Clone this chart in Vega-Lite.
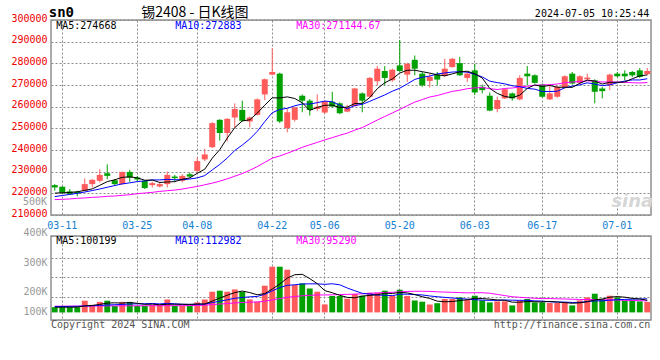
{
  "$schema": "https://vega.github.io/schema/vega-lite/v6.json",
  "padding": {"left": 10, "top": 4, "right": 10, "bottom": 4},
  "bounds": "flush",
  "spacing": 21,
  "config": {
    "view": {"stroke": "#909090", "strokeWidth": 1.5},
    "axis": {"labelFont": "DejaVu Sans Mono", "labelFontSize": 10, "domain": false, "ticks": false, "gridColor": "#8a8a8a", "gridDash": [2, 2], "gridWidth": 1, "labelOverlap": false},
    "text": {"font": "DejaVu Sans Mono", "fontSize": 10, "baseline": "middle"}
  },
  "data": {"values": [
    {"d":"03-08","o":223790,"h":224250,"l":221210,"c":222730,"v":43160,"m5":220100,"m10":218500,"m30":217100,"vm5":43160,"vm10":48140,"vm30":51460},
    {"d":"03-11","o":223030,"h":223340,"l":219680,"c":220290,"v":43160,"m5":220250,"m10":219000,"m30":217250,"vm5":43160,"vm10":48970,"vm30":51460},
    {"d":"03-12","o":220900,"h":221970,"l":219380,"c":219530,"v":43160,"m5":220400,"m10":219500,"m30":217400,"vm5":43160,"vm10":49800,"vm30":51875},
    {"d":"03-13","o":220750,"h":221210,"l":218620,"c":219990,"v":43160,"m5":220700,"m10":220000,"m30":217700,"vm5":44000,"vm10":50630,"vm30":52290},
    {"d":"03-14","o":221210,"h":226840,"l":220900,"c":224250,"v":97110,"m5":221358,"m10":220600,"m30":217860,"vm5":53950,"vm10":53120,"vm30":52705},
    {"d":"03-15","o":224250,"h":226530,"l":222730,"c":226230,"v":62250,"m5":222058,"m10":221300,"m30":218160,"vm5":57768,"vm10":55610,"vm30":53120},
    {"d":"03-18","o":225770,"h":231100,"l":225010,"c":228510,"v":87150,"m5":223702,"m10":222000,"m30":218310,"vm5":66566,"vm10":58100,"vm30":53535},
    {"d":"03-19","o":229270,"h":233380,"l":226530,"c":228060,"v":97110,"m5":225408,"m10":222800,"m30":218620,"vm5":77356,"vm10":61420,"vm30":53950},
    {"d":"03-20","o":226080,"h":226530,"l":223490,"c":224250,"v":53120,"m5":226260,"m10":223600,"m30":218770,"vm5":79348,"vm10":63910,"vm30":53950},
    {"d":"03-21","o":224250,"h":230030,"l":223940,"c":229880,"v":87150,"m5":227386,"m10":224372,"m30":219070,"vm5":77356,"vm10":65653,"vm30":54365},
    {"d":"03-22","o":229880,"h":230800,"l":225320,"c":227290,"v":87150,"m5":227598,"m10":224828,"m30":219380,"vm5":82336,"vm10":70052,"vm30":54780},
    {"d":"03-25","o":227290,"h":228060,"l":225470,"c":226380,"v":53120,"m5":227172,"m10":225437,"m30":219840,"vm5":75530,"vm10":71048,"vm30":54780},
    {"d":"03-26","o":225770,"h":226080,"l":221970,"c":222420,"v":53120,"m5":226044,"m10":225726,"m30":220140,"vm5":66732,"vm10":72044,"vm30":55195},
    {"d":"03-27","o":223790,"h":225320,"l":222730,"c":224710,"v":62250,"m5":226136,"m10":226198,"m30":220450,"vm5":68558,"vm10":73953,"vm30":55610},
    {"d":"03-28","o":223180,"h":225320,"l":222730,"c":224250,"v":62250,"m5":225010,"m10":226198,"m30":220900,"vm5":63578,"vm10":70467,"vm30":55610},
    {"d":"03-29","o":224250,"h":230030,"l":222730,"c":228510,"v":107070,"m5":225254,"m10":226426,"m30":221210,"vm5":67562,"vm10":74949,"vm30":56025},
    {"d":"04-01","o":227750,"h":228510,"l":225470,"c":226990,"v":53120,"m5":225376,"m10":226274,"m30":221510,"vm5":67562,"vm10":71546,"vm30":56025},
    {"d":"04-02","o":225770,"h":228820,"l":225010,"c":228060,"v":53120,"m5":226504,"m10":226274,"m30":221970,"vm5":67562,"vm10":67147,"vm30":56191},
    {"d":"04-03","o":228820,"h":229580,"l":227290,"c":227750,"v":53120,"m5":227112,"m10":226624,"m30":222580,"vm5":65736,"vm10":67147,"vm30":56606},
    {"d":"04-08","o":230340,"h":236430,"l":229580,"c":234900,"v":83000,"m5":229242,"m10":227126,"m30":223180,"vm5":69886,"vm10":66732,"vm30":58017},
    {"d":"04-09","o":235670,"h":240540,"l":234900,"c":237950,"v":107070,"m5":231130,"m10":228192,"m30":223950,"vm5":69886,"vm10":68724,"vm30":60175},
    {"d":"04-10","o":241300,"h":252860,"l":240900,"c":252410,"v":171810,"m5":236214,"m10":230795,"m30":224710,"vm5":93624,"vm10":80593,"vm30":64491},
    {"d":"04-11","o":253930,"h":254230,"l":244340,"c":247840,"v":180110,"m5":240170,"m10":233337,"m30":225620,"vm5":119022,"vm10":93292,"vm30":69139},
    {"d":"04-12","o":247840,"h":254700,"l":244040,"c":254390,"v":171810,"m5":245498,"m10":236305,"m30":226690,"vm5":142760,"vm10":104248,"vm30":73455},
    {"d":"04-15","o":254990,"h":261540,"l":250120,"c":258950,"v":190900,"m5":250308,"m10":239775,"m30":227900,"vm5":164340,"vm10":117113,"vm30":78435},
    {"d":"04-16","o":258500,"h":262760,"l":253170,"c":253470,"v":171810,"m5":253412,"m10":242271,"m30":229120,"vm5":177288,"vm10":123587,"vm30":82751},
    {"d":"04-17","o":253170,"h":255450,"l":250430,"c":254990,"v":107900,"m5":253928,"m10":245071,"m30":230640,"vm5":164506,"vm10":129065,"vm30":84992},
    {"d":"04-18","o":256210,"h":263820,"l":255910,"c":263370,"v":88810,"m5":257034,"m10":248602,"m30":232320,"vm5":146246,"vm10":132634,"vm30":86569},
    {"d":"04-19","o":265650,"h":272950,"l":263060,"c":272650,"v":221610,"m5":260686,"m10":253092,"m30":234290,"vm5":156206,"vm10":149483,"vm30":92545},
    {"d":"04-22","o":274780,"h":286960,"l":274480,"c":276000,"v":379310,"m5":264096,"m10":257202,"m30":236233,"vm5":193888,"vm10":179114,"vm30":103833},
    {"d":"04-23","o":275240,"h":275690,"l":252410,"c":253170,"v":379310,"m5":264036,"m10":258724,"m30":237248,"vm5":235388,"vm10":206338,"vm30":115038},
    {"d":"04-24","o":250120,"h":258950,"l":248150,"c":257430,"v":354410,"m5":264524,"m10":259226,"m30":238486,"vm5":284690,"vm10":224598,"vm30":125413},
    {"d":"04-25","o":253930,"h":260020,"l":253170,"c":259560,"v":227420,"m5":263762,"m10":260398,"m30":239820,"vm5":312412,"vm10":229329,"vm30":131555},
    {"d":"04-26","o":265040,"h":265650,"l":257430,"c":262760,"v":240700,"m5":261784,"m10":261235,"m30":241246,"vm5":316230,"vm10":236218,"vm30":138112},
    {"d":"04-29","o":262760,"h":263520,"l":255910,"c":258500,"v":199200,"m5":258284,"m10":261190,"m30":242388,"vm5":280208,"vm10":237048,"vm30":141515},
    {"d":"04-30","o":258950,"h":265650,"l":258040,"c":260020,"v":171810,"m5":259654,"m10":261845,"m30":243514,"vm5":238708,"vm10":237048,"vm30":145167},
    {"d":"05-06","o":257280,"h":262760,"l":256670,"c":262300,"v":66400,"m5":260628,"m10":262576,"m30":244640,"vm5":181106,"vm10":232898,"vm30":144503},
    {"d":"05-07","o":262300,"h":266870,"l":259560,"c":260020,"v":136120,"m5":260720,"m10":262241,"m30":245706,"vm5":162846,"vm10":237629,"vm30":145831},
    {"d":"05-08","o":261540,"h":262000,"l":256520,"c":256970,"v":136120,"m5":259562,"m10":260673,"m30":246796,"vm5":141930,"vm10":229080,"vm30":148570},
    {"d":"05-09","o":257730,"h":260780,"l":257430,"c":259560,"v":113710,"m5":259774,"m10":259029,"m30":247786,"vm5":124832,"vm10":202520,"vm30":149483},
    {"d":"05-10","o":260320,"h":268690,"l":259870,"c":268390,"v":152720,"m5":261448,"m10":260551,"m30":249156,"vm5":121014,"vm10":179861,"vm30":151641},
    {"d":"05-13","o":266110,"h":266560,"l":257430,"c":262760,"v":138610,"m5":261540,"m10":261084,"m30":250368,"vm5":135456,"vm10":158281,"vm30":154463},
    {"d":"05-14","o":264580,"h":273720,"l":264130,"c":273260,"v":163510,"m5":264188,"m10":262454,"m30":252063,"vm5":140934,"vm10":151890,"vm30":158198},
    {"d":"05-15","o":271740,"h":278740,"l":269910,"c":277520,"v":163510,"m5":268298,"m10":263930,"m30":253823,"vm5":146412,"vm10":144171,"vm30":161518},
    {"d":"05-16","o":276460,"h":278740,"l":269910,"c":273260,"v":180110,"m5":271038,"m10":265406,"m30":255457,"vm5":159692,"vm10":142262,"vm30":165502},
    {"d":"05-17","o":272190,"h":277520,"l":271430,"c":277060,"v":138610,"m5":272772,"m10":267110,"m30":257075,"vm5":156870,"vm10":138942,"vm30":166498},
    {"d":"05-20","o":279040,"h":290760,"l":276000,"c":276460,"v":188410,"m5":275512,"m10":268526,"m30":258724,"vm5":166830,"vm10":151143,"vm30":171063},
    {"d":"05-21","o":274780,"h":280260,"l":271430,"c":279800,"v":136950,"m5":276820,"m10":270504,"m30":260449,"vm5":161518,"vm10":151226,"vm30":173802},
    {"d":"05-22","o":281630,"h":283610,"l":274480,"c":277520,"v":98770,"m5":276820,"m10":272559,"m30":262108,"vm5":148570,"vm10":147491,"vm30":175379},
    {"d":"05-23","o":275240,"h":276000,"l":269150,"c":269910,"v":88810,"m5":276150,"m10":273594,"m30":263275,"vm5":130310,"vm10":145001,"vm30":175545},
    {"d":"05-24","o":271890,"h":275240,"l":268850,"c":273720,"v":65570,"m5":275482,"m10":274127,"m30":264467,"vm5":115702,"vm10":136286,"vm30":174134},
    {"d":"05-27","o":274780,"h":276000,"l":269910,"c":272500,"v":76360,"m5":274690,"m10":275101,"m30":265137,"vm5":93292,"vm10":130061,"vm30":170980},
    {"d":"05-28","o":274170,"h":282090,"l":273720,"c":277520,"v":111220,"m5":274234,"m10":275527,"m30":266126,"vm5":88146,"vm10":124832,"vm30":168656},
    {"d":"05-29","o":278280,"h":282540,"l":277980,"c":282090,"v":111220,"m5":275148,"m10":275984,"m30":267050,"vm5":90636,"vm10":119603,"vm30":166664},
    {"d":"05-30","o":280110,"h":283000,"l":274170,"c":274480,"v":124500,"m5":276062,"m10":276106,"m30":267567,"vm5":97774,"vm10":114042,"vm30":164423},
    {"d":"05-31","o":273260,"h":276000,"l":271430,"c":275240,"v":102920,"m5":276366,"m10":275924,"m30":268293,"vm5":105244,"vm10":110473,"vm30":162182},
    {"d":"06-03","o":276760,"h":279800,"l":265340,"c":266560,"v":138610,"m5":275178,"m10":274934,"m30":268679,"vm5":117694,"vm10":105493,"vm30":163178},
    {"d":"06-04","o":269150,"h":270210,"l":266110,"c":267630,"v":99600,"m5":273200,"m10":273717,"m30":268821,"vm5":115370,"vm10":101758,"vm30":163510},
    {"d":"06-05","o":265040,"h":266560,"l":257880,"c":258190,"v":83000,"m5":268420,"m10":271784,"m30":268339,"vm5":109726,"vm10":100181,"vm30":158945},
    {"d":"06-06","o":258950,"h":264580,"l":257430,"c":263060,"v":91300,"m5":266136,"m10":271099,"m30":267907,"vm5":103086,"vm10":100430,"vm30":149317},
    {"d":"06-07","o":263820,"h":268390,"l":263520,"c":268080,"v":91300,"m5":264704,"m10":270535,"m30":268404,"vm5":100762,"vm10":103003,"vm30":139689},
    {"d":"06-11","o":266110,"h":266560,"l":262760,"c":263820,"v":58100,"m5":264156,"m10":269667,"m30":268617,"vm5":84660,"vm10":101177,"vm30":129812},
    {"d":"06-12","o":263370,"h":274480,"l":262910,"c":273260,"v":99600,"m5":265282,"m10":269241,"m30":269074,"vm5":84660,"vm10":100015,"vm30":125579},
    {"d":"06-13","o":275240,"h":278740,"l":269910,"c":274020,"v":111220,"m5":268448,"m10":268434,"m30":269449,"vm5":90304,"vm10":100015,"vm30":121263},
    {"d":"06-14","o":274480,"h":274930,"l":270670,"c":270980,"v":83000,"m5":270032,"m10":268084,"m30":269865,"vm5":88644,"vm10":95865,"vm30":117362},
    {"d":"06-17","o":270210,"h":270670,"l":264130,"c":264580,"v":83000,"m5":269332,"m10":267018,"m30":270017,"vm5":86984,"vm10":93873,"vm30":114457},
    {"d":"06-18","o":263370,"h":270210,"l":263060,"c":266110,"v":78020,"m5":269790,"m10":266973,"m30":270144,"vm5":90968,"vm10":87814,"vm30":114789},
    {"d":"06-19","o":264580,"h":269610,"l":264130,"c":269150,"v":78020,"m5":268968,"m10":267125,"m30":270449,"vm5":86652,"vm10":85656,"vm30":112880},
    {"d":"06-20","o":268850,"h":274480,"l":268390,"c":274020,"v":83000,"m5":268968,"m10":268708,"m30":271017,"vm5":81008,"vm10":85656,"vm30":111137},
    {"d":"06-21","o":275240,"h":276000,"l":270210,"c":270670,"v":58100,"m5":268906,"m10":269469,"m30":271387,"vm5":76028,"vm10":82336,"vm30":109228},
    {"d":"06-24","o":270980,"h":274480,"l":270370,"c":274020,"v":99600,"m5":270794,"m10":270063,"m30":271575,"vm5":79348,"vm10":83166,"vm30":107485},
    {"d":"06-25","o":272650,"h":275240,"l":272190,"c":273410,"v":124500,"m5":272254,"m10":271022,"m30":271930,"vm5":88644,"vm10":89806,"vm30":106987},
    {"d":"06-26","o":272190,"h":272650,"l":261540,"c":266870,"v":155210,"m5":271798,"m10":270383,"m30":271717,"vm5":104082,"vm10":95367,"vm30":106738},
    {"d":"06-27","o":268390,"h":269150,"l":263820,"c":267170,"v":113710,"m5":270428,"m10":269698,"m30":271372,"vm5":110224,"vm10":95616,"vm30":105078},
    {"d":"06-28","o":269910,"h":275240,"l":267630,"c":274780,"v":138610,"m5":271250,"m10":270078,"m30":271423,"vm5":126326,"vm10":101177,"vm30":103667},
    {"d":"07-01","o":275240,"h":276000,"l":273720,"c":274020,"v":124500,"m5":271250,"m10":271022,"m30":271321,"vm5":131306,"vm10":105327,"vm30":103252},
    {"d":"07-02","o":275240,"h":276760,"l":272190,"c":274020,"v":99600,"m5":271372,"m10":271813,"m30":271240,"vm5":126326,"vm10":107485,"vm30":100264},
    {"d":"07-03","o":276000,"h":276460,"l":273720,"c":274480,"v":105410,"m5":272894,"m10":272346,"m30":271063,"vm5":116366,"vm10":110224,"vm30":99185},
    {"d":"07-04","o":276760,"h":277820,"l":273260,"c":273720,"v":91300,"m5":274204,"m10":272316,"m30":270936,"vm5":111884,"vm10":111054,"vm30":97500},
    {"d":"07-05","o":275000,"h":277820,"l":274480,"c":276460,"v":86320,"m5":274668,"m10":272883,"m30":271144.67,"vm5":100199,"vm10":112982,"vm30":95290}
  ]},
  "vconcat": [
    {
      "width": 600,
      "height": 195,
      "layer": [
        {
          "mark": {"type": "rule", "strokeWidth": 1},
          "encoding": {
            "x": {"field": "d", "type": "nominal", "scale": {"type": "band", "paddingInner": 0, "paddingOuter": 0},
                  "axis": {"title": null, "values": ["03-11","03-25","04-08","04-22","05-06","05-20","06-03","06-17","07-01"], "labelColor": "#1480d0", "labelPadding": 5, "labelAngle": 0, "labelOverlap": false, "grid": true, "bandPosition": 0.5}},
            "y": {"field": "l", "type": "quantitative", "scale": {"domain": [210000, 300000], "nice": false, "zero": false},
                  "axis": {"title": null, "values": [210000,220000,230000,240000,250000,260000,270000,280000,290000,300000], "tickCount": 40, "format": "d", "labelColor": "#ee0000", "labelPadding": 4, "labelOffset": -2, "labelOverlap": false, "grid": true}},
            "y2": {"field": "h"},
            "color": {"condition": {"test": "datum.c >= datum.o", "value": "#ff5b5b"}, "value": "#00a000"}
          }
        },
        {
          "mark": {"type": "bar", "width": {"band": 0.8}},
          "encoding": {
            "x": {"field": "d", "type": "nominal"},
            "y": {"field": "o", "type": "quantitative"},
            "y2": {"field": "c"},
            "color": {"condition": {"test": "datum.c >= datum.o", "value": "#ff5b5b"}, "value": "#00a000"}
          }
        },
        {"mark": {"type": "line", "color": "#ff00ff", "strokeWidth": 1}, "encoding": {"x": {"field": "d", "type": "nominal"}, "y": {"field": "m30", "type": "quantitative"}}},
        {"mark": {"type": "line", "color": "#0000ff", "strokeWidth": 1}, "encoding": {"x": {"field": "d", "type": "nominal"}, "y": {"field": "m10", "type": "quantitative"}}},
        {"mark": {"type": "line", "color": "#000000", "strokeWidth": 1}, "encoding": {"x": {"field": "d", "type": "nominal"}, "y": {"field": "m5", "type": "quantitative"}}},
        {"data": {"values": [{}]}, "mark": {"type": "text", "align": "left", "dx": -6, "fontSize": 14, "fontWeight": "bold", "text": "sn0", "color": "#000000"},
         "encoding": {"x": {"datum": "03-08"}, "y": {"datum": 303300}}},
        {"data": {"values": [{}]}, "mark": {"type": "text", "align": "left", "dx": 4, "font": "Noto Sans CJK SC", "fontSize": 14, "text": "锡2408 - 日K线图", "color": "#000000"},
         "encoding": {"x": {"datum": "03-25"}, "y": {"datum": 303400}}},
        {"data": {"values": [{}]}, "mark": {"type": "text", "align": "right", "dx": 2, "text": "2024-07-05 10:25:44", "color": "#000000"},
         "encoding": {"x": {"datum": "07-05"}, "y": {"datum": 302900}}},
        {"data": {"values": [{}]}, "mark": {"type": "text", "align": "left", "dx": 1.5, "text": "MA5:274668", "color": "#000000"},
         "encoding": {"x": {"datum": "03-08"}, "y": {"datum": 297300}}},
        {"data": {"values": [{}]}, "mark": {"type": "text", "align": "left", "dx": 0.5, "text": "MA10:272883", "color": "#0000ff"},
         "encoding": {"x": {"datum": "04-01"}, "y": {"datum": 297300}}},
        {"data": {"values": [{}]}, "mark": {"type": "text", "align": "left", "dx": 1.5, "text": "MA30:271144.67", "color": "#ff00ff"},
         "encoding": {"x": {"datum": "04-25"}, "y": {"datum": 297300}}},
        {"data": {"values": [{}]}, "mark": {"type": "text", "align": "right", "dx": -7.75, "text": "500K", "color": "#999999"},
         "encoding": {"x": {"datum": "03-08"}, "y": {"datum": 215775}}},
        {"data": {"values": [{}]}, "mark": {"type": "text", "align": "right", "dx": 6, "font": "DejaVu Sans", "fontSize": 18, "fontStyle": "italic", "fontWeight": "bold", "text": "sina", "color": "#d6d6d6"},
         "encoding": {"x": {"datum": "07-05"}, "y": {"datum": 215775}}}
      ]
    },
    {
      "width": 600,
      "height": 84,
      "layer": [
        {
          "mark": {"type": "bar", "width": {"band": 0.78}},
          "encoding": {
            "x": {"field": "d", "type": "nominal", "scale": {"type": "band", "paddingInner": 0, "paddingOuter": 0},
                  "axis": {"title": null, "values": ["03-11","03-25","04-08","04-22","05-06","05-20","06-03","06-17","07-01"], "labels": false, "grid": true, "bandPosition": 0.5}},
            "y": {"field": "v", "type": "quantitative", "scale": {"domain": [-63080, 634120], "nice": false, "zero": false},
                  "axis": {"title": null, "values": [-63080, 130310, 296310, 454010, 634120], "tickCount": 40, "grid": true, "labelColor": "#999999", "labelPadding": 4, "labelOverlap": false,
                           "labelExpr": "datum.value > 600000 ? '400K' : datum.value > 400000 ? '300K' : datum.value > 200000 ? '' : datum.value > 0 ? '200K' : '100K'",
                           "labelOffset": {"condition": [{"test": "datum.value > 600000", "value": -3.6}, {"test": "datum.value > 400000", "value": 4.7}, {"test": "datum.value > 0", "value": -5}], "value": -8.3}}},
            "y2": {"datum": 0},
            "color": {"condition": {"test": "datum.c >= datum.o", "value": "#ff5b5b"}, "value": "#00a000"}
          }
        },
        {"mark": {"type": "line", "color": "#ff00ff", "strokeWidth": 1}, "encoding": {"x": {"field": "d", "type": "nominal"}, "y": {"field": "vm30", "type": "quantitative"}}},
        {"mark": {"type": "line", "color": "#0000ff", "strokeWidth": 1}, "encoding": {"x": {"field": "d", "type": "nominal"}, "y": {"field": "vm10", "type": "quantitative"}}},
        {"mark": {"type": "line", "color": "#000000", "strokeWidth": 1}, "encoding": {"x": {"field": "d", "type": "nominal"}, "y": {"field": "vm5", "type": "quantitative"}}},
        {"data": {"values": [{}]}, "mark": {"type": "text", "align": "left", "dx": 1.5, "text": "MA5:100199", "color": "#000000"},
         "encoding": {"x": {"datum": "03-08"}, "y": {"datum": 595000}}},
        {"data": {"values": [{}]}, "mark": {"type": "text", "align": "left", "dx": 0.5, "text": "MA10:112982", "color": "#0000ff"},
         "encoding": {"x": {"datum": "04-01"}, "y": {"datum": 595000}}},
        {"data": {"values": [{}]}, "mark": {"type": "text", "align": "left", "dx": 1.5, "text": "MA30:95290", "color": "#ff00ff"},
         "encoding": {"x": {"datum": "04-25"}, "y": {"datum": 595000}}},
        {"data": {"values": [{}]}, "mark": {"type": "text", "align": "left", "dx": -3.75, "text": "Copyright 2024 SINA.COM", "color": "#555555"},
         "encoding": {"x": {"datum": "03-08"}, "y": {"datum": -106000}}},
        {"data": {"values": [{}]}, "mark": {"type": "text", "align": "right", "dx": 3, "text": "http://finance.sina.com.cn", "color": "#555555"},
         "encoding": {"x": {"datum": "07-05"}, "y": {"datum": -106000}}}
      ]
    }
  ]
}
